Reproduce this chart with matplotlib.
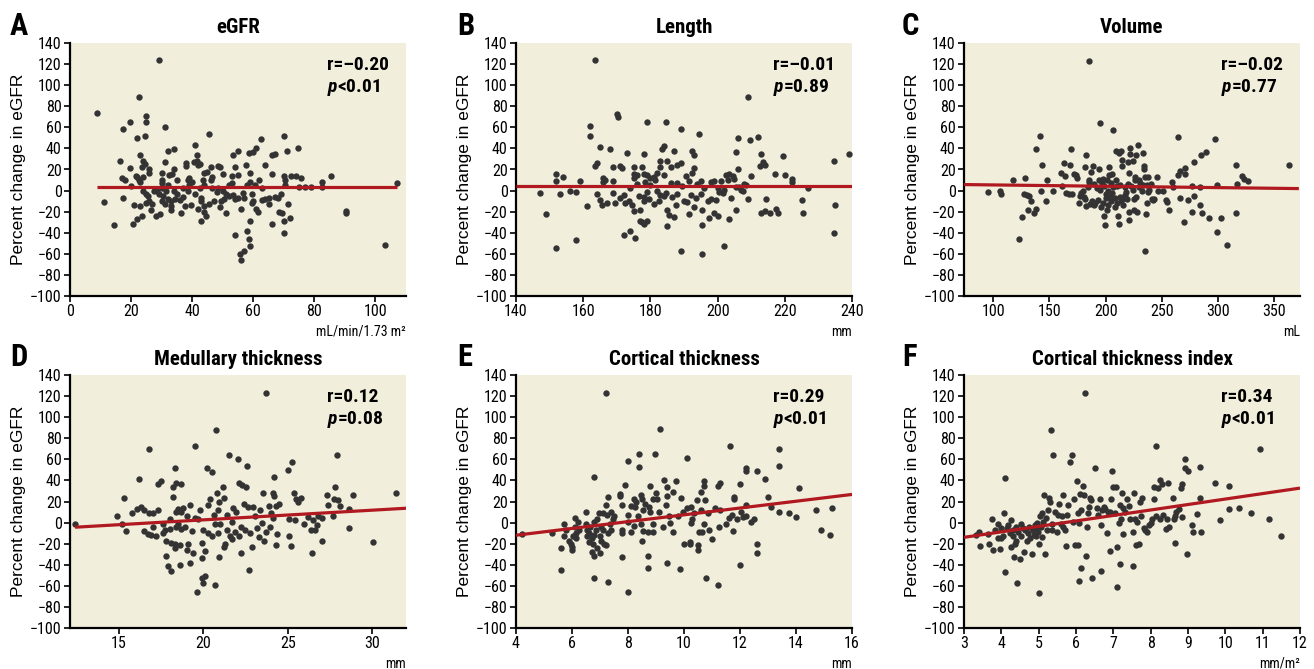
import numpy as np
import matplotlib
matplotlib.use("Agg")
import matplotlib.pyplot as plt
from matplotlib import font_manager as fm

# pick a narrow face if the machine has one
names = {f.name for f in fm.fontManager.ttflist}
narrow = None
for cand in ["Liberation Sans Narrow", "Roboto Condensed", "Open Sans Condensed",
             "DejaVu Sans Condensed"]:
    if cand in names:
        narrow = cand
        break
if narrow is None:
    narrow = "DejaVu Sans"
    plt.rcParams['font.stretch'] = 'condensed'
plt.rcParams['font.family'] = [narrow, 'DejaVu Sans']
plt.rcParams['mathtext.fontset'] = 'custom'
plt.rcParams['mathtext.it'] = narrow + ':italic:bold'
plt.rcParams['axes.unicode_minus'] = True

# ---- data: (x, percent change in eGFR) ----
egfr_pts = [
    (9, 74), (11, -11), (14.5, -33), (16.5, 28), (17, 12), (17.5, 58), (17.5, -7), (18, 10),
    (19.5, 65), (19.5, 21), (20, 4), (20.5, -32), (21, -14), (21.5, 14), (22, -27), (22, 13),
    (22, 50), (22.5, 89), (22.5, 10), (23, 8), (23, 34), (23, -15), (23.5, 22), (23.5, -24),
    (24, 28), (24, 13), (24, 0), (24.5, 25), (24.5, 52), (25, 71), (25, 65), (25, -3),
    (25, -12), (25.5, -5), (26, -10), (26, 20), (26, 17), (26.5, -18), (27, -13), (27.5, 0),
    (28, -24), (28.5, 0), (29, 124), (29, -3), (29.5, -22), (30, 2), (30, 7), (30, 17),
    (30, -10), (30, 10), (30.5, -5), (31, 60), (31, 27), (31, -13), (31.5, 0), (32, 5),
    (32, -8), (32, 38), (32.5, 15), (33, -15), (33, -18), (33, -10), (33.5, 16), (34, 39),
    (34, 0), (34, 20), (34.5, -8), (35, 10), (35, -3), (36, -9), (36.5, -21), (37, -6),
    (37, 2), (37.5, -15), (38, 26), (38, 23), (38.5, 10), (38.5, 0), (39, 12), (39, 5),
    (39.5, -14), (40, 8), (40.5, 27), (41, 43), (41, -3), (41.5, 28), (41.5, 34), (42, 24),
    (42, -17), (42.5, 2), (42.5, 25), (43, -29), (43, -10), (43, -7), (43.5, 10), (44, 17),
    (44, -15), (44, -20), (44, 5), (44.5, -24), (45, 18), (45.5, 54), (45.5, -13), (46, 10),
    (46, 22), (46.5, 2), (46.5, 13), (47, -10), (48, -1), (48.5, 23), (48.5, 2), (49, -16),
    (49, 22), (49.5, -10), (50, 16), (50, 0), (50.5, -8), (51, -21), (51, -3), (52, 5),
    (52, -5), (53, 7), (53, 14), (53.5, 34), (53.5, -4), (54, -42), (54, 22), (54, -8),
    (55, 38), (55, 15), (55, -7), (55.5, -60), (56, -66), (56, -17), (56.5, -2), (57, -7),
    (57, -57), (57.5, 24), (58, 5), (58, -38), (58.5, 36), (58.5, -46), (59, 17), (59, -29),
    (59, -53), (59, 8), (59.5, -12), (59.5, -3), (60, -10), (60, 37), (60.5, 5), (61, 40),
    (61, -17), (61.5, -20), (62, 10), (62.5, 49), (63, 2), (63, -9), (64, 24), (64, -8),
    (65, -7), (65, -13), (66, 34), (66, 16), (66, -32), (67, 35), (67, -6), (68, -7),
    (68.5, -20), (69, -3), (69.5, -21), (70, 52), (70, 14), (70, -29), (70, -40), (70.5, 5),
    (70.5, 10), (71, 38), (71.5, -13), (72, -26), (72.5, 14), (74, 14), (74.5, 40), (75, 3),
    (75.5, 12), (77, 3), (79, 3), (82.5, 8), (82.5, 3), (85.5, 14), (90.5, -19), (90.5, -21),
    (103, -52), (107, 7),
]

length_pts = [
    (147, -2), (149, -22), (152, 16), (152, 9), (152, -54), (153, -3), (154, 13), (156, 0),
    (158, -1), (158, -47), (159, 9), (161, -15), (162, 61), (162, 52), (163.5, 124), (163.5, 23),
    (164, 26), (164, -3), (165, 41), (165, -9), (165.5, -14), (166, 12), (166, 8), (166.5, 10),
    (167, -12), (168, 39), (169, 22), (169, 9), (169, -2), (169.5, -12), (170, 73), (170.5, 70),
    (171, -7), (171, 23), (171.5, 21), (172, -4), (172, -42), (172.5, -12), (173, 36), (173.5, -10),
    (174, -38), (174, 2), (174.5, -14), (175, 22), (175, 16), (175, 12), (175, -19), (175.5, -45),
    (176, 15), (176, 6), (176.5, -5), (177, -29), (177, -18), (177.5, 22), (177.5, -30), (178, 35),
    (178, 16), (178, -32), (178, -6), (178, -10), (178.5, 8), (179, -29), (179, 65), (179, 15),
    (179, -1), (179.5, -8), (180, 12), (180, 5), (181, -13), (181, 13), (181.5, 10), (182, 17),
    (182, 0), (182.5, -10), (183, 22), (183, 28), (183, -4), (183.5, 39), (184, 42), (184, 15),
    (184, -5), (184.5, 65), (184.5, -2), (185, 28), (185, -18), (185, -34), (185.5, -23), (186, 7),
    (186, 22), (186.5, -6), (187, 38), (187, -25), (187.5, -14), (188, 24), (188, 7), (188, -3),
    (189, 26), (189, 58), (189, -57), (189.5, 4), (190, -10), (190.5, 14), (191, -11), (191.5, 9),
    (191.5, -22), (192, -4), (192.5, 38), (192.5, 17), (193, 34), (193, 21), (193, -16), (193.5, -7),
    (194, 6), (194.5, 54), (195, 9), (195, -3), (195.5, -18), (195.5, -33), (195.5, -60), (196, 2),
    (197, -10), (197.5, -26), (198, 8), (198, -8), (199, 9), (199, -21), (199.5, -9), (200, 2),
    (200, -24), (200.5, -1), (201, 9), (201.5, -2), (202, -53), (202, 1), (202.5, 15), (203, 10),
    (203.5, 16), (203.5, -27), (204, -7), (204.5, 14), (205, 11), (205.5, 37), (205.5, 3), (205.5, -18),
    (206, 50), (206, 20), (206.5, 3), (207, 1), (207.5, 0), (208, 6), (208.5, 5), (209, 89),
    (209, -8), (209.5, 48), (210, 14), (212, 51), (212.5, 23), (213, 35), (213, -21), (213.5, 27),
    (214, 24), (214, -19), (214.5, -8), (215.5, -21), (217, 16), (217.5, -17), (218, -21), (219.5, 33),
    (220, 15), (222, 11), (222, 8), (225, -9), (225.5, -21), (227, 2), (234.5, 28), (234.5, -40),
    (235, -14), (239, 35),
]

volume_pts = [
    (95.5, -1), (106, 0), (107, -3), (118, 10), (123, -46), (126, -25), (127.5, -3), (128, 12),
    (130, -4), (131, -18), (131.5, -5), (134, -10), (136, -21), (138, -17), (138.5, 39), (142, 52),
    (142.5, 0), (143, 24), (147, -10), (147.5, 10), (153, 0), (160, 17), (161, 4), (163, 26),
    (164, 14), (165, -2), (167, -3), (168, 24), (169, 39), (170, -3), (172, 16), (174, 15),
    (175, 12), (176, -12), (177, -5), (178, -2), (180, 0), (180.5, -6), (182, -8), (182, 22),
    (183, 34), (183, -15), (184, 3), (185, 123), (185, 10), (185.5, 8), (186, -13), (187, 18),
    (188, -10), (188.5, 23), (189.5, 6), (190, -14), (191, -12), (192, 2), (193, -9), (194, 10),
    (194.5, 20), (195, 64), (195, 1), (196, -16), (197, 7), (197.5, -12), (198, 11), (199, 4),
    (199, -24), (199.5, -33), (200, -7), (200, -3), (201, 10), (201, -18), (202, 0), (202.5, -14),
    (203, 15), (203, 22), (204, -6), (204.5, 7), (205, -10), (205.5, -2), (206, 16), (206.5, 3),
    (207, 57), (208, -7), (208, -16), (209, 38), (209.5, 10), (210, 4), (210, -12), (211, -24),
    (212, 36), (212, -32), (212.5, -6), (213, 5), (214, 38), (214, -10), (215, 29), (215, 23),
    (215.5, -14), (216, -7), (217, 3), (217.5, -4), (218, -1), (219, -8), (219.5, 27), (220, 6),
    (220.5, -20), (221, 17), (221, -28), (222, 40), (222, 35), (223, 4), (224, 28), (224, 1),
    (225, -18), (225, -8), (226, 13), (226.5, 10), (227, 34), (227.5, -6), (228, -20), (229, 43),
    (229.5, 10), (230, 3), (231, 7), (232, 0), (233, 5), (233.5, 36), (234, 23), (234.5, 20),
    (235, -57), (235.5, 13), (236, -22), (236.5, -12), (237, 5), (238, 13), (238, -1), (239, 1),
    (240, 6), (241, -8), (242, -9), (243, -8), (246, 13), (247, 0), (251, 0), (254, -9),
    (255, -11), (256, -18), (259.5, 8), (260, 3), (264, 51), (264, 15), (266, 19), (266.5, -7),
    (270, -30), (270.5, 16), (271, 21), (273, -9), (277, -20), (277, 4), (279, -5), (279, 27),
    (284, -14), (284, 3), (284.5, 34), (286, -21), (289, 37), (292, -26), (297, 49), (299, 5),
    (299, -39), (303, -26), (308, -52), (316, 24), (316, -21), (317, 6), (321, 14), (323, 11),
    (327, 9), (363, 24),
]

medullary_pts = [
    (12.4, -1), (14.9, 6), (15.2, -1), (15.3, 23), (15.4, -8), (15.8, 9), (16.05, 13), (16.2, 41),
    (16.3, 15), (16.5, 12), (16.5, -8), (16.7, -11), (16.8, 70), (16.8, 9), (16.9, -12), (17, 9),
    (17, -4), (17.2, -13), (17.3, 37), (17.3, 12), (17.5, 39), (17.6, -10), (17.6, -1), (17.7, -7),
    (17.8, -32), (17.8, -17), (17.9, -41), (18, 3), (18, -6), (18.1, -46), (18.1, -19), (18.2, 34),
    (18.2, 24), (18.3, 52), (18.3, -20), (18.3, -24), (18.4, 38), (18.4, 10), (18.4, -4), (18.5, 13),
    (18.5, -1), (18.6, -40), (18.6, -21), (18.7, -6), (18.7, 37), (18.7, 10), (18.8, 14), (18.9, -4),
    (19, 6), (19, -26), (19.1, -20), (19.2, -38), (19.2, 17), (19.3, -8), (19.4, -29), (19.5, 4),
    (19.5, 73), (19.6, -66), (19.7, 3), (19.8, 12), (19.9, -19), (19.9, -34), (19.9, -53), (20, -7),
    (20, -57), (20.1, -51), (20.1, -27), (20.2, 52), (20.3, 17), (20.3, -10), (20.4, 22), (20.5, 48),
    (20.5, -13), (20.6, 7), (20.7, -1), (20.7, -59), (20.75, 88), (20.8, 28), (20.85, 12), (20.85, -10),
    (20.9, -33), (20.95, 20), (21, -1), (21.15, 34), (21.2, 23), (21.25, -23), (21.3, -20), (21.4, -7),
    (21.4, 7), (21.5, 64), (21.6, -13), (21.7, 1), (21.7, -16), (21.75, 14), (21.85, -9), (21.95, 10),
    (22.05, 60), (22.1, -13), (22.1, 38), (22.2, -29), (22.25, -4), (22.3, 36), (22.4, 18), (22.45, -7),
    (22.5, 34), (22.6, 54), (22.65, 15), (22.7, -45), (22.75, -10), (22.85, -23), (22.95, 15), (23.05, 6),
    (23.15, -5), (23.3, -14), (23.35, 12), (23.45, 0), (23.55, 28), (23.6, -17), (23.7, 123), (23.7, -9),
    (23.9, 16), (23.95, -4), (24.0, 9), (24.1, 4), (24.15, 28), (24.2, 43), (24.2, 25), (24.3, -21),
    (24.3, 16), (24.35, -11), (24.5, 18), (25.0, 50), (25.1, 3), (25.1, -13), (25.2, -22), (25.25, 57),
    (25.35, 28), (25.45, 2), (25.5, 22), (25.6, 20), (25.8, 23), (25.95, -1), (26.2, 5), (26.4, -7),
    (26.45, -29), (26.5, 2), (26.6, -7), (26.7, -2), (26.8, 6), (27.05, 4), (27.05, -17), (27.3, 26),
    (27.4, 17), (27.65, 6), (27.75, 22), (27.8, 34), (27.9, 64), (28.0, 21), (28.1, 16), (28.6, 13),
    (28.6, -5), (28.85, 26), (30.05, -18), (31.4, 28),
]

cortical_pts = [
    (4.2, -11), (5.3, -10), (5.6, -24), (5.6, -45), (5.7, -13), (5.7, -1), (5.8, -7), (5.9, -17),
    (5.95, -20), (6.0, -23), (6.0, -26), (6.05, -13), (6.1, 4), (6.1, -4), (6.15, -10), (6.15, -15),
    (6.2, 1), (6.25, -7), (6.5, 10), (6.5, -1), (6.55, -7), (6.55, -13), (6.6, -18), (6.6, -10),
    (6.65, -4), (6.7, -15), (6.7, -28), (6.75, -20), (6.8, -12), (6.8, 43), (6.8, -32), (6.8, -53),
    (6.8, 1), (6.85, -7), (6.9, -24), (6.9, 3), (6.95, 9), (7.0, -13), (7.0, -29), (7.05, -4),
    (7.05, -17), (7.1, 9), (7.1, -7), (7.15, -20), (7.2, 17), (7.2, 123), (7.2, -21), (7.25, 7),
    (7.3, -10), (7.3, 24), (7.3, -56), (7.35, -1), (7.4, 10), (7.4, -7), (7.45, 3), (7.5, 6),
    (7.7, 27), (7.7, 25), (7.8, 17), (7.8, -7), (7.8, -33), (7.8, -10), (7.9, 36), (8.0, 1),
    (8.0, 58), (8.0, 7), (8.0, -66), (8.1, 16), (8.1, -9), (8.2, 22), (8.2, -3), (8.25, 15),
    (8.3, 20), (8.35, 6), (8.4, 53), (8.4, 65), (8.45, -1), (8.45, 26), (8.5, -17), (8.5, 22),
    (8.55, 12), (8.55, -8), (8.6, 18), (8.7, -9), (8.7, -32), (8.7, -43), (8.75, 15), (8.8, 35),
    (8.8, 10), (8.9, 22), (8.9, -1), (8.9, -9), (8.95, 65), (9.0, 28), (9.05, 22), (9.1, 10),
    (9.15, 89), (9.25, -4), (9.3, 40), (9.35, 17), (9.4, 34), (9.4, 25), (9.4, -38), (9.45, 6),
    (9.5, 0), (9.6, 29), (9.6, -9), (9.7, 39), (9.8, 6), (9.85, -44), (9.9, 23), (9.95, 10),
    (10.0, -20), (10.1, 61), (10.1, 14), (10.2, -20), (10.2, -18), (10.25, 0), (10.25, 15), (10.3, 3),
    (10.35, 9), (10.45, 21), (10.5, -21), (10.5, -26), (10.55, -9), (10.6, 29), (10.6, 12), (10.65, -9),
    (10.7, 39), (10.7, 35), (10.7, -1), (10.75, 21), (10.8, -53), (10.85, 9), (10.9, -7), (11.0, -16),
    (11.1, 14), (11.2, 35), (11.2, -59), (11.25, -4), (11.3, 38), (11.3, 12), (11.5, -1), (11.6, 4),
    (11.65, 73), (11.7, 7), (11.75, -8), (11.8, 24), (11.8, 22), (11.9, 3), (12.0, 37), (12.0, -40),
    (12.05, 10), (12.1, 5), (12.2, 17), (12.2, 52), (12.2, 49), (12.2, 6), (12.4, 1), (12.5, 3),
    (12.6, 49), (12.6, -20), (12.6, -29), (12.9, 41), (13.0, 24), (13.1, 15), (13.4, 10), (13.4, 70),
    (13.4, 54), (13.75, 9), (14.0, 5), (14.1, 33), (14.7, 12), (14.9, -7), (15.2, -12), (15.3, 14),
]

cti_pts = [
    (3.33, -12), (3.4, -9), (3.42, -22), (3.65, -11), (3.67, -20), (3.76, 3), (3.78, -26), (3.83, -7),
    (3.9, -1), (3.91, -15), (3.96, -25), (3.98, -5), (4.0, -15), (4.05, -13), (4.07, 9), (4.09, 42),
    (4.1, -47), (4.16, -5), (4.19, -2), (4.23, -10), (4.25, -23), (4.27, 2), (4.3, -13), (4.32, -7),
    (4.33, -33), (4.36, -20), (4.39, -4), (4.4, -17), (4.43, -57), (4.45, -9), (4.5, -35), (4.52, -1),
    (4.54, -13), (4.57, -5), (4.6, -28), (4.63, -7), (4.68, -17), (4.72, -10), (4.75, -4), (4.78, -15),
    (4.81, -30), (4.84, -7), (4.87, -12), (4.9, -2), (4.93, -13), (4.94, -5), (4.96, 0), (4.99, -9),
    (5.0, -67), (5.02, -20), (5.03, 6), (5.06, -4), (5.08, 9), (5.1, -14), (5.12, 1), (5.14, 26),
    (5.17, -30), (5.19, 4), (5.21, -7), (5.26, 12), (5.28, 23), (5.3, 20), (5.33, 88), (5.35, -1),
    (5.37, -7), (5.39, 64), (5.44, 10), (5.48, -9), (5.53, 7), (5.55, 18), (5.59, -1), (5.62, 6),
    (5.64, 26), (5.66, -4), (5.7, -7), (5.73, -22), (5.75, 7), (5.78, 17), (5.84, 57), (5.89, 64),
    (5.91, 1), (5.95, 22), (5.98, -21), (6.02, 39), (6.05, 9), (6.06, -21), (6.07, -55), (6.09, 0),
    (6.11, 27), (6.13, 12), (6.14, -43), (6.18, 35), (6.22, 26), (6.23, 123), (6.27, -32), (6.3, -4),
    (6.33, 9), (6.36, 15), (6.38, 23), (6.4, 21), (6.43, -53), (6.51, 52), (6.56, 14), (6.6, 7),
    (6.65, 22), (6.67, -2), (6.67, -46), (6.69, 12), (6.74, 15), (6.78, 13), (6.83, -10), (6.87, 10),
    (6.9, -27), (6.92, 10), (6.94, 22), (6.96, 49), (7.0, 34), (7.05, 9), (7.08, 34), (7.1, -61),
    (7.11, -23), (7.14, 0), (7.17, 17), (7.18, -39), (7.2, 3), (7.23, 28), (7.26, -11), (7.27, 14),
    (7.32, 10), (7.36, 22), (7.41, 16), (7.45, 3), (7.52, -41), (7.54, -9), (7.56, 28), (7.59, 3),
    (7.61, -21), (7.63, 1), (7.68, -20), (7.72, 20), (7.75, 6), (7.77, 23), (7.81, -5), (7.86, -7),
    (7.9, -9), (7.95, -2), (8.0, 0), (8.04, 3), (8.08, 22), (8.1, 34), (8.13, 73), (8.15, 6),
    (8.19, 33), (8.24, 40), (8.26, 3), (8.3, 37), (8.33, 7), (8.42, -6), (8.44, 3), (8.46, 38),
    (8.48, -4), (8.6, 23), (8.62, 3), (8.64, 6), (8.66, -19), (8.69, 10), (8.75, 13), (8.8, 33),
    (8.84, 37), (8.84, 5), (8.93, 60), (8.93, 52), (8.98, -30), (9.0, 49), (9.11, -2), (9.14, -9),
    (9.25, 8), (9.31, 23), (9.32, 53), (9.34, -9), (9.71, 38), (9.85, 2), (10.1, 35), (10.1, 13),
    (10.37, 14), (10.68, 9), (10.93, 70), (11.17, 3), (11.49, -13),
]

titles = ["eGFR", "Length", "Volume", "Medullary thickness", "Cortical thickness",
          "Cortical thickness index"]
letters = ["A", "B", "C", "D", "E", "F"]
units = ["mL/min/1.73 m\u00b2", "mm", "mL", "mm", "mm", "mm/m\u00b2"]
r_text = ["r=\u20130.20", "r=\u20130.01", "r=\u20130.02", "r=0.12", "r=0.29", "r=0.34"]
p_text = ["<0.01", "=0.89", "=0.77", "=0.08", "<0.01", "<0.01"]
all_pts = [egfr_pts, length_pts, volume_pts, medullary_pts, cortical_pts, cti_pts]
# regression line end points: (x0, x1, y0, y1)
fit_lines = [(9, 107, 3.5, 3.5), (140, 240, 4.5, 4.5), (74, 372, 5.7, 1.9),
             (12.4, 32, -4.4, 13.6), (4, 16, -12, 26.7), (3, 12, -14, 32.7)]
xlims = [(0, 110), (140, 240), (74, 373), (12.1, 32), (4, 16), (3, 12)]
xticks = [np.arange(0, 101, 20), np.arange(140, 241, 20), np.arange(100, 351, 50),
          np.arange(15, 31, 5), np.arange(4, 17, 2), np.arange(3, 13, 1)]

BG = "#f2eedc"
DOT = "#333333"
RED = "#b0191f"

W, H = 1314, 669
fig = plt.figure(figsize=(W / 100, H / 100), dpi=100)

col_left = [70, 516, 964]
row_top = [43, 375]
aw, ah = 336, 253
letter_x = [10, 457, 902]
letter_base = [35, 366]

for i in range(6):
    r, c = divmod(i, 3)
    ax = fig.add_axes([col_left[c] / W, 1 - (row_top[r] + ah) / H, aw / W, ah / H])
    ax.set_facecolor(BG)
    pts = np.array(all_pts[i])
    ax.scatter(pts[:, 0], pts[:, 1], s=21, color=DOT, linewidths=0, zorder=3)
    x0, x1, y0, y1 = fit_lines[i]
    ax.plot([x0, x1], [y0, y1], color=RED, lw=2.3, zorder=4, solid_capstyle="butt")

    ax.set_xlim(*xlims[i])
    ax.set_ylim(-100, 140)
    ax.set_xticks(xticks[i])
    ax.set_yticks(np.arange(-100, 141, 20))
    for s in ["top", "right"]:
        ax.spines[s].set_visible(False)
    for s in ["left", "bottom"]:
        ax.spines[s].set_linewidth(1.6)
    ax.tick_params(direction="out", length=4, width=1.2, labelsize=11.5, pad=2)
    ax.set_ylabel("Percent change in eGFR", family=["Liberation Sans", "DejaVu Sans"],
                  fontsize=12.5)
    ax.yaxis.set_label_coords(-0.13, 0.5)
    ax.set_title(titles[i], fontsize=15, fontweight="bold", pad=7)

    ax.text(0.765, 0.913, r_text[i], transform=ax.transAxes, fontsize=14,
            fontweight="bold", ha="left", va="center")
    ax.text(0.765, 0.826, "$p$" + p_text[i], transform=ax.transAxes, fontsize=14,
            fontweight="bold", ha="left", va="center")
    ax.text(1.0, -0.142, units[i], transform=ax.transAxes, fontsize=10,
            ha="right", va="center")

    fig.text(letter_x[c] / W, 1 - letter_base[r] / H, letters[i], fontsize=22,
             fontweight="bold", ha="left", va="baseline")

fig.savefig("out.png", dpi=100)
